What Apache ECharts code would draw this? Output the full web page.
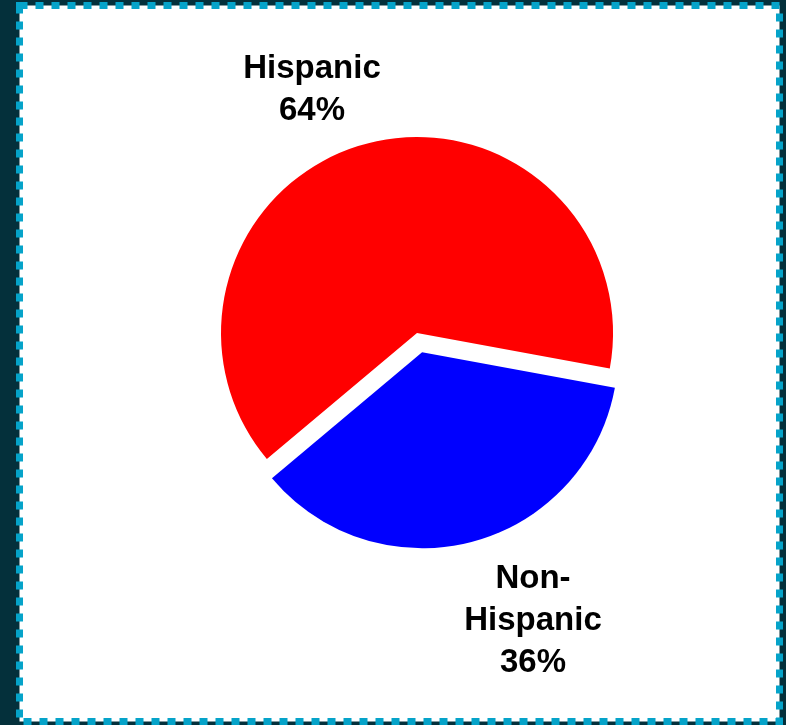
<!DOCTYPE html>
<html>
<head>
<meta charset="utf-8">
<script src="https://cdn.jsdelivr.net/npm/echarts@6/dist/echarts.min.js"></script>
<style>
html,body{margin:0;padding:0;background:#04303b;}
#c{width:786px;height:725px;}
</style>
</head>
<body>
<div id="c"></div>
<script>
const categories = ['Hispanic', 'Non-Hispanic'];
const labelTexts = ['Hispanic', 'Non-\nHispanic'];
const values = [64, 36];
const colors = ['#ff0000', '#0000ff'];

const chart = echarts.init(document.getElementById('c'), null, {renderer: 'canvas'});
const labelPos = [[312, 90], [533, 621]];

const labelFont = {
  fontFamily: 'Liberation Sans, Arial, sans-serif',
  fontWeight: 'bold',
  fontSize: 33,
  lineHeight: 42,
  fill: '#000'
};

chart.setOption({
  animation: false,
  backgroundColor: '#04303b',
  graphic: [{
    type: 'rect',
    z: 0,
    shape: {x: 19.5, y: 5.5, width: 760, height: 716},
    style: {fill: '#ffffff', stroke: '#05a3c9', lineWidth: 7, lineDash: [8, 8]}
  }].concat(categories.map((c, i) => ({
    type: 'text',
    z: 10,
    x: labelPos[i][0],
    y: labelPos[i][1],
    style: Object.assign({
      text: labelTexts[i] + '\n' + values[i] + '%',
      textAlign: 'center',
      textVerticalAlign: 'middle',
      align: 'center',
      verticalAlign: 'middle'
    }, labelFont)
  }))),
  series: [{
    type: 'pie',
    z: 5,
    center: [417, 333],
    radius: 196,
    startAngle: 220,
    clockwise: true,
    selectedMode: 'single',
    selectedOffset: 20,
    emphasis: {disabled: true},
    data: categories.map((c, i) => ({
      name: c,
      value: values[i],
      selected: i === 1,
      itemStyle: {color: colors[i]}
    })),
    label: {show: false},
    labelLine: {show: false}
  }]
});
</script>
</body>
</html>
